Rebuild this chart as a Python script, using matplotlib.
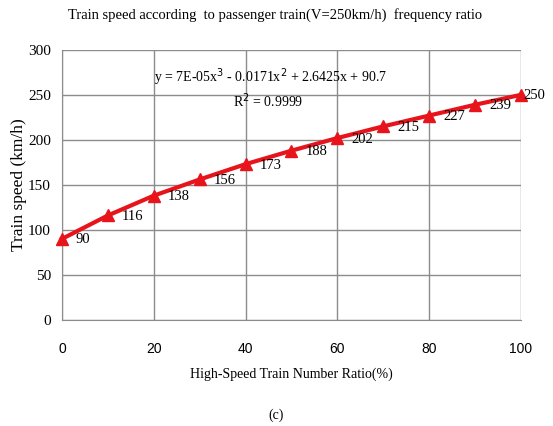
import matplotlib.pyplot as plt

plt.rcParams["font.family"] = ["Liberation Serif", "DejaVu Serif"]

# data
ratio = [0, 10, 20, 30, 40, 50, 60, 70, 80, 90, 100]
speed = [90, 116, 138, 156, 173, 188, 202, 215, 227, 239, 250]
x_ticks = [0, 20, 40, 60, 80, 100]
y_ticks = [0, 50, 100, 150, 200, 250, 300]

fig = plt.figure(figsize=(5.53, 4.26), dpi=100)
ax = fig.add_axes([0.112, 0.249, 0.830, 0.634])

ax.plot(ratio, speed, color="#e8141c", linewidth=3, marker="^",
        markersize=9, zorder=3, clip_on=False)

# data labels to the right of each point, last one pulled in
for i, (x, y) in enumerate(zip(ratio, speed)):
    dx = 2 if i == len(ratio) - 1 else 14
    ax.annotate(str(y), (x, y), xytext=(dx, -1), textcoords="offset pixels",
                ha="left", va="center", fontsize=10.5, annotation_clip=False)

ax.set_xlim(0, 100)
ax.set_ylim(0, 300)
ax.set_xticks(x_ticks)
ax.set_yticks(y_ticks)
ax.grid(True, color="#8c8c8c", linewidth=1)
ax.set_axisbelow(True)
for s in ax.spines.values():
    s.set_color("#8c8c8c")
ax.spines["top"].set_visible(False)
ax.spines["right"].set_visible(False)
ax.tick_params(length=0)
ax.tick_params(axis="y", labelsize=11, pad=8)
ax.tick_params(axis="x", labelsize=10, pad=16)
for lbl in ax.get_xticklabels():
    lbl.set_fontfamily("Liberation Sans")

ax.set_xlabel("High-Speed Train Number Ratio(%)", fontsize=10, labelpad=8)
ax.set_ylabel("Train speed (km/h)", fontsize=12.5, labelpad=1)

ax.text(0.2, 0.9, "y = 7E-05x$^3$ - 0.0171x$^2$ + 2.6425x + 90.7",
        transform=ax.transAxes, fontsize=10, ha="left", va="center")
ax.text(0.45, 0.81, "R$^2$ = 0.9999", transform=ax.transAxes,
        fontsize=10, ha="center", va="center")

fig.text(0.497, 0.965,
         "Train speed according  to passenger train(V=250km/h)  frequency ratio",
         ha="center", va="center", fontsize=10.5)
fig.text(0.5, 0.026, "(c)", ha="center", va="center", fontsize=10)

fig.savefig("out.png", dpi=100)
